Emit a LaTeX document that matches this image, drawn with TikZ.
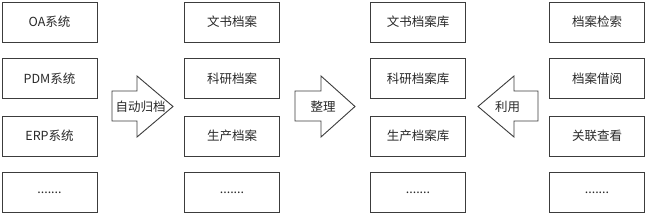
\documentclass[tikz,border=0pt]{standalone}
\usepackage{fontspec}
\setmainfont{Noto Sans CJK SC}
\usepackage{tikz}
\usetikzlibrary{positioning}
\definecolor{LineGray}{RGB}{60, 60, 60}
\definecolor{TextGray}{RGB}{40, 40, 40}

\begin{document}
\begin{tikzpicture}[x=1pt, y=1pt,
    box/.style={draw=LineGray, line width=0.9pt, minimum width=95pt, minimum height=40pt,
                inner sep=0pt, text=TextGray, font=\fontsize{12.5}{14}\selectfont},
    bigarrow/.style={draw=LineGray, line width=0.9pt, fill=white},
    lbl/.style={text=TextGray, inner sep=0pt, font=\fontsize{12.5}{14}\selectfont}]
    \useasboundingbox (0,0) rectangle (646,214);
    % sources
    \node[box] (oa)   at (49.5,192)  {OA系统};
    \node[box] (pdm)  at (49.5,135.5) {PDM系统};
    \node[box] (erp)  at (49.5,78)   {ERP系统};
    \node[box] (src)  at (49.5,21.5) {.......};
    % archives
    \node[box] (wsda) at (232,192)   {文书档案};
    \node[box] (kyda) at (232,135.5) {科研档案};
    \node[box] (scda) at (232,78)    {生产档案};
    \node[box] (arc)  at (232,21.5)  {.......};
    % repositories
    \node[box] (wsk)  at (418,192)   {文书档案库};
    \node[box] (kyk)  at (418,135.5) {科研档案库};
    \node[box] (sck)  at (418,78)    {生产档案库};
    \node[box] (rep)  at (418,21.5)  {.......};
    % usage
    \node[box] (jiansuo) at (597,192)   {档案检索};
    \node[box] (jieyue)  at (597,135.5) {档案借阅};
    \node[box] (chakan)  at (597,78)    {关联查看};
    \node[box] (use)     at (597,21.5)  {.......};
    % arrows
    \draw[bigarrow] (112,123) -- (137,123) -- (137,138) -- (173,107.5) -- (137,77) -- (137,93) -- (112,93) -- cycle;
    \draw[bigarrow] (295,123) -- (321,123) -- (321,138) -- (355,107.5) -- (321,77) -- (321,93) -- (295,93) -- cycle;
    \draw[bigarrow] (538,123) -- (514,123) -- (514,138) -- (478,107.5) -- (514,77) -- (514,93) -- (538,93) -- cycle;
    \node[lbl] (guidang) at (140.5,107.5) {自动归档};
    \node[lbl] (zhengli) at (323,107.5)   {整理};
    \node[lbl] (liyong)  at (507.5,107.5) {利用};
\end{tikzpicture}
\end{document}
